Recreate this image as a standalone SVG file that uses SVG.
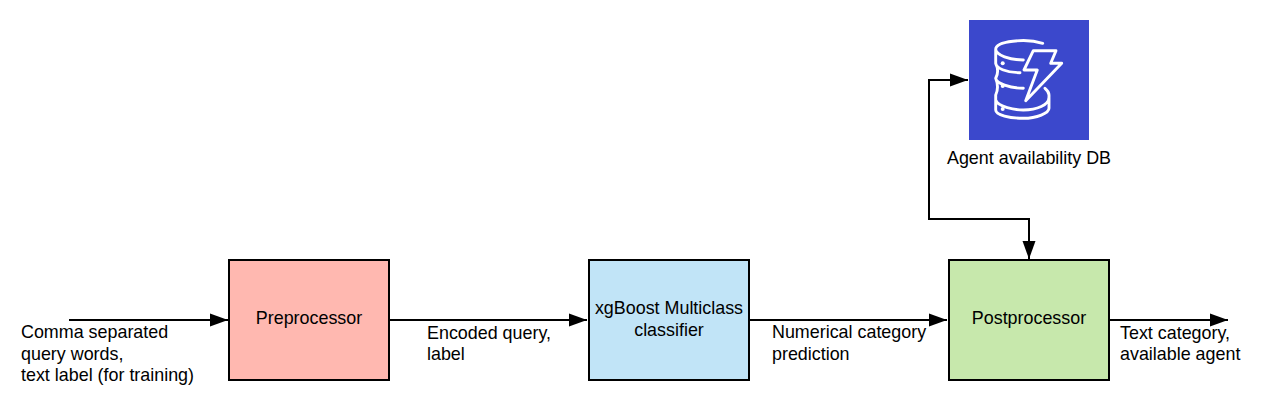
<svg xmlns="http://www.w3.org/2000/svg" width="1269" height="420" viewBox="0 0 1269 420">
<defs>
<style>
.box{stroke:#000;stroke-width:2}
.t{font-family:"Liberation Sans",Arial,sans-serif;font-size:17.9px;fill:#000}
.c{text-anchor:middle}
.w{fill:none;stroke:#000;stroke-width:2}
.i{fill:none;stroke:#fff;stroke-width:2.9;stroke-linecap:round;stroke-linejoin:round}
</style>
<marker id="a" markerUnits="userSpaceOnUse" markerWidth="19" markerHeight="14" refX="18" refY="7" orient="auto-start-reverse"><path d="M0 0.5L18 7L0 13.5Z" fill="#000"/></marker>
</defs>
<rect width="1269" height="420" fill="#fff"/>
<g id="connectors">
<path class="w" d="M69 320H228" marker-end="url(#a)"/>
<path class="w" d="M389 320H587" marker-end="url(#a)"/>
<path class="w" d="M749 320H947" marker-end="url(#a)"/>
<path class="w" d="M1109 320H1228" marker-end="url(#a)"/>
<path class="w" d="M968 80H929V219H1029V259" marker-start="url(#a)" marker-end="url(#a)"/>
</g>
<g id="preprocessor"><rect class="box" x="229" y="260" width="160" height="120" fill="#ffb8b0"/><text class="t c" x="309" y="324">Preprocessor</text></g>
<g id="classifier"><rect class="box" x="589" y="260" width="160" height="120" fill="#c1e4f7"/><text class="t c" x="669" y="314">xgBoost Multiclass</text><text class="t c" x="669" y="336">classifier</text></g>
<g id="postprocessor"><rect class="box" x="949" y="260" width="160" height="120" fill="#c7e8ac"/><text class="t c" x="1029" y="324">Postprocessor</text></g>
<g id="db">
<rect x="969" y="20" width="120" height="120" fill="#3b48cc"/>
<path class="i" d="M1042.7 43.3C1026 38 995.7 41 995.7 49.3C995.7 55 1010 60 1023.3 60M995.7 49.3V63.3C995.7 68 1006 72.7 1020 72.7M995.7 63.3C998 68 998 74 995.7 78.3C996 83 1010 88.3 1023.3 88.3M995.7 78.3C998 84 998 90 995.7 95V110C995.7 115 1010 118.3 1023.3 118.3C1037 118.3 1049 113 1049 108.3V95C1049 92 1047 90 1045 88.3M995.7 100C998 107 1015 110 1023.3 110C1037 110 1049 105 1049 97.3"/>
<path class="i" d="M1033.3 50.7H1056L1050.7 63.3H1061.7L1025.7 100.7L1037.3 70H1024Z"/>
<circle cx="1002.7" cy="63.3" r="2" fill="#fff"/><circle cx="1002.7" cy="86" r="2" fill="#fff"/><circle cx="1002.7" cy="109" r="2" fill="#fff"/>
<text class="t c" x="1029" y="164">Agent availability DB</text>
</g>
<g id="labels">
<text class="t" x="21" y="338">Comma separated</text>
<text class="t" x="21" y="360">query words,</text>
<text class="t" x="21" y="381">text label (for training)</text>
<text class="t" x="427" y="339">Encoded query,</text>
<text class="t" x="427" y="360">label</text>
<text class="t" x="772" y="338">Numerical category</text>
<text class="t" x="772" y="360">prediction</text>
<text class="t" x="1120" y="339">Text category,</text>
<text class="t" x="1120" y="360">available agent</text>
</g>
</svg>
